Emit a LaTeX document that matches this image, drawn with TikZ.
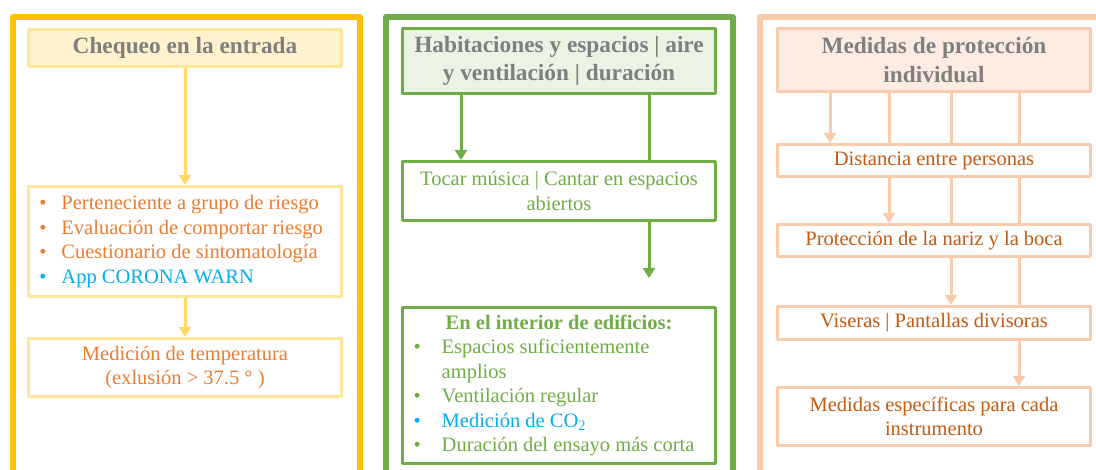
\documentclass[tikz,border=0pt]{standalone}
\usepackage{fontspec}
\setmainfont{Liberation Serif}
\usetikzlibrary{arrows.meta,backgrounds}
\definecolor{gold}{HTML}{FFC000}
\definecolor{paleyel}{HTML}{FFE699}
\definecolor{yelarr}{HTML}{FFD966}
\definecolor{yelfill}{HTML}{FFF2CC}
\definecolor{orangetxt}{HTML}{ED7D31}
\definecolor{bluetxt}{HTML}{00B0F0}
\definecolor{leaf}{HTML}{70AD47}
\definecolor{leaffill}{HTML}{EBF3E5}
\definecolor{peach}{HTML}{F8CBAD}
\definecolor{peachfill}{HTML}{FCEBE0}
\definecolor{rust}{HTML}{C55A11}
\definecolor{headgray}{HTML}{7F7F7F}
\newcommand{\bul}[2]{\textcolor{#1}{\textbullet} & \textcolor{#1}{#2}\\}
\begin{document}
\begin{tikzpicture}[x=1pt,y=-1pt,line join=round,
    box/.style={draw,line width=3pt,fill=white,minimum width=313pt,inner sep=0pt,align=center,font=\fontsize{20.5}{24.5}\selectfont},
    head/.style={box,font=\fontsize{23.3}{28.5}\selectfont\bfseries,text=headgray},
    frame/.style={line width=6pt},
    arr/.style={line width=3pt,-{Triangle[width=12pt,length=10pt]}}]
    \useasboundingbox (0,0) rectangle (1096,470);
    \clip (0,0) rectangle (1096,470);
    % outer frames
    \draw[frame,gold] (13,17) rectangle (359.5,490);
    \draw[frame,leaf] (386,17) rectangle (732.5,490);
    \draw[frame,peach] (760,17) rectangle (1120,490);
    % entrada
    \node[head,draw=paleyel,fill=yelfill,minimum height=37pt] (hdrA) at (185,48) {Chequeo en la entrada};
    \node[box,draw=paleyel,minimum height=110pt] (listA) at (185,241.5) {\begin{tabular}{@{}l@{\hspace{15pt}}l@{\hspace{8pt}}}
        \bul{orangetxt}{Perteneciente a grupo de riesgo}
        \bul{orangetxt}{Evaluación de comportar riesgo}
        \bul{orangetxt}{Cuestionario de sintomatología}
        \bul{bluetxt}{App CORONA WARN}
      \end{tabular}};
    \node[box,draw=paleyel,text=orangetxt,minimum height=58pt] (tempA) at (185,367.5) {Medición de temperatura\\(exlusión > 37.5 ° )};
    % espacios
    \node[head,draw=leaf,fill=leaffill,minimum height=65pt] (hdrB) at (559,61) {Habitaciones y espacios | aire\\y ventilación | duración};
    \node[box,draw=leaf,text=leaf,minimum height=59pt] (tocarB) at (559,191) {Tocar música | Cantar en espacios\\abiertos};
    \node[box,draw=leaf,minimum height=156pt] (interB) at (559,385.5) {\begin{tabular}{@{}l@{\hspace{21pt}}l@{\hspace{10pt}}}
        \multicolumn{2}{c}{\textcolor{leaf}{\bfseries En el interior de edificios:}\hspace{-5pt}}\\
        \bul{leaf}{Espacios suficientemente}
        & \textcolor{leaf}{amplios}\\
        \bul{leaf}{Ventilación regular}
        \bul{bluetxt}{Medición de CO\textsubscript{2}}
        \bul{leaf}{Duración del ensayo más corta}
      \end{tabular}};
    \coordinate (endB) at (649,278);
    % proteccion
    \node[head,draw=peach,fill=peachfill,minimum height=63pt] (hdrC) at (934,60) {Medidas de protección\\individual};
    \node[box,draw=peach,text=rust,minimum height=32pt] (distC) at (934,160.5) {Distancia entre personas};
    \node[box,draw=peach,text=rust,minimum height=32pt] (narizC) at (934,240.5) {Protección de la nariz y la boca};
    \node[box,draw=peach,text=rust,minimum height=33pt] (visC) at (934,323) {Viseras | Pantallas divisoras};
    \node[box,draw=peach,text=rust,minimum height=58pt] (medC) at (934,416.5) {Medidas específicas para cada\\instrumento};
    \begin{scope}[on background layer]
      \draw[arr,yelarr] (hdrA) -- (listA);
      \draw[arr,yelarr] (listA) -- (tempA);
      \draw[arr,leaf] ([xshift=-98pt]hdrB.south) -- ([xshift=-98pt]tocarB.north);
      \draw[arr,leaf] ([xshift=90pt]hdrB.south) -- (endB);
      \draw[arr,peach] ([xshift=-104pt]hdrC.south) -- ([xshift=-104pt]distC.north);
      \draw[arr,peach] ([xshift=-45pt]hdrC.south) -- ([xshift=-45pt]narizC.north);
      \draw[arr,peach] ([xshift=17pt]hdrC.south) -- ([xshift=17pt]visC.north);
      \draw[arr,peach] ([xshift=85pt]hdrC.south) -- ([xshift=85pt]medC.north);
    \end{scope}
\end{tikzpicture}
\end{document}
